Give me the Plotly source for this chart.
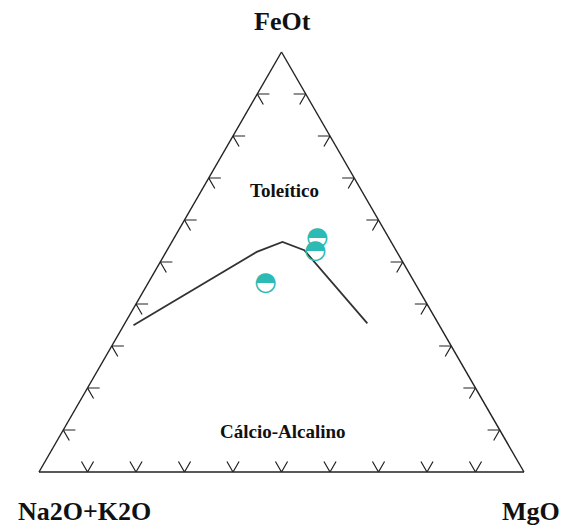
import plotly.graph_objects as go

# Sample compositions (wt% normalised): FeOt (a), Na2O+K2O (b), MgO (c)
feot = [55.6, 52.6, 45.0]
alk = [14.8, 16.7, 30.8]
mgo = [29.6, 30.7, 24.2]

# Tholeiitic / calc-alkaline dividing line
line_feot = [35.0, 52.4, 54.7, 52.8, 35.4]
line_alk = [63.1, 28.9, 22.4, 18.9, 14.6]
line_mgo = [2.0, 18.7, 22.8, 28.3, 50.0]

# Chevron tick positions along each edge (percent)
tick_values = [10, 20, 30, 40, 50, 60, 70, 80, 90]

TEAL = "#2cbab5"
EDGE = "#222222"
SERIF = "Liberation Serif, Times New Roman, serif"
ARM = 2.5  # chevron arm length, in percent units

# Each chevron: two short arms leaving an edge point along the two
# grid directions that point into the triangle.
ca, cb, cc = [], [], []


def chevron(p, e1, e2):
    for pt in (e1, p, e2):
        ca.append(pt[0])
        cb.append(pt[1])
        cc.append(pt[2])
    ca.append(None)
    cb.append(None)
    cc.append(None)


for t in tick_values:
    # base (FeOt = 0)
    chevron((0, 100 - t, t), (ARM, 100 - t, t - ARM), (ARM, 100 - t - ARM, t))
    # left side (MgO = 0)
    chevron((t, 100 - t, 0), (t, 100 - t - ARM, ARM), (t - ARM, 100 - t, ARM))
    # right side (Na2O+K2O = 0)
    chevron((t, 0, 100 - t), (t, ARM, 100 - t - ARM), (t - ARM, ARM, 100 - t))

fig = go.Figure()

fig.add_trace(go.Scatterternary(
    a=ca, b=cb, c=cc, mode="lines",
    line=dict(color=EDGE, width=1.2),
    connectgaps=False, hoverinfo="skip", showlegend=False,
))

fig.add_trace(go.Scatterternary(
    a=line_feot, b=line_alk, c=line_mgo, mode="lines",
    line=dict(color="#333333", width=1.8),
    hoverinfo="skip", showlegend=False,
))

# Half-filled circle symbols for the samples
fig.add_trace(go.Scatterternary(
    a=feot, b=alk, c=mgo, mode="text",
    text=["\u25d3"] * len(feot),
    textposition="middle center",
    textfont=dict(family="DejaVu Sans", size=26, color=TEAL),
    hoverinfo="skip", showlegend=False,
))

axis_style = dict(
    showticklabels=False, ticks="", showgrid=False,
    linecolor=EDGE, linewidth=1.4, title=dict(text=""),
)

fig.update_layout(
    width=563, height=526,
    margin=dict(l=0, r=0, t=52, b=54),
    paper_bgcolor="white",
    showlegend=False,
    ternary=dict(
        sum=100, bgcolor="white",
        aaxis=axis_style, baxis=axis_style, caxis=axis_style,
    ),
)


def label(text, x_px, y_px, size):
    fig.add_annotation(
        text=f"<b>{text}</b>", showarrow=False,
        xref="paper", yref="paper",
        x=x_px / 563, y=(472 - y_px) / 420,
        xanchor="center", yanchor="middle",
        font=dict(family=SERIF, size=size, color="#111111"),
    )


label("FeOt", 282.5, 21, 26)
label("Na2O+K2O", 84, 511, 26)
label("MgO", 531, 511, 26)
label("Toleítico", 284, 190, 19)
label("Cálcio-Alcalino", 282.5, 431, 19)

fig.write_html("out.html")
